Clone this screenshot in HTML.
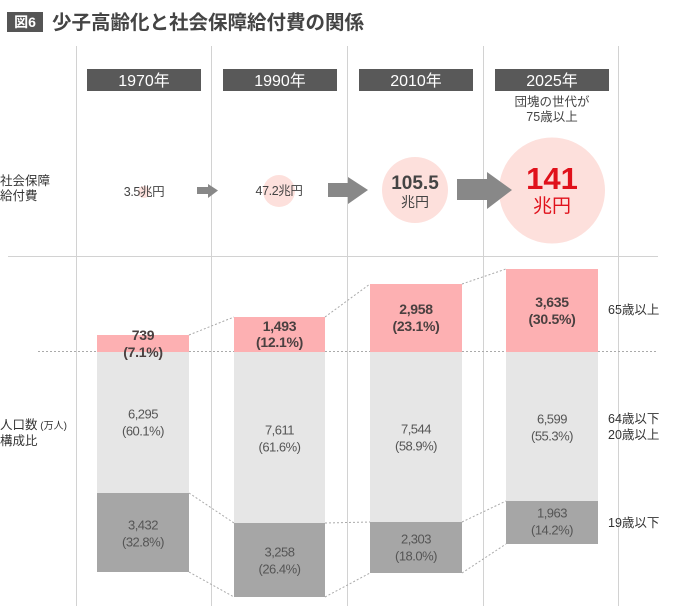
<!DOCTYPE html>
<html><head><meta charset="utf-8"><style>
html,body{margin:0;padding:0;background:#fff;}
svg{display:block;font-family:"Liberation Sans","Noto Sans CJK JP",sans-serif;}
</style></head><body>
<svg width="680" height="616" viewBox="0 0 680 616" xmlns="http://www.w3.org/2000/svg">
<!-- title -->
<rect x="7" y="12" width="36" height="20" fill="#555"/>
<text x="25" y="27" font-size="14" font-weight="bold" fill="#fff" text-anchor="middle">図6</text>
<text x="52" y="29" font-size="19.5" font-weight="bold" fill="#444">少子高齢化と社会保障給付費の関係</text>

<!-- grid lines -->
<g stroke="#d2d2d2" stroke-width="1">
<line x1="76.5" y1="46" x2="76.5" y2="606"/>
<line x1="211.5" y1="46" x2="211.5" y2="606"/>
<line x1="347.5" y1="46" x2="347.5" y2="606"/>
<line x1="483.5" y1="46" x2="483.5" y2="606"/>
<line x1="618.5" y1="46" x2="618.5" y2="606"/>
<line x1="8" y1="256.5" x2="658" y2="256.5"/>
</g>

<!-- year headers -->
<g fill="#595959">
<rect x="87" y="69" width="114" height="22"/>
<rect x="223" y="69" width="114" height="22"/>
<rect x="359" y="69" width="114" height="22"/>
<rect x="495" y="69" width="114" height="22"/>
</g>
<g fill="#fff" font-size="16" text-anchor="middle">
<text x="144" y="86">1970年</text>
<text x="280" y="86">1990年</text>
<text x="416" y="86">2010年</text>
<text x="552" y="86">2025年</text>
</g>
<g fill="#444" font-size="12.5" text-anchor="middle">
<text x="552" y="106">団塊の世代が</text>
<text x="552" y="121">75歳以上</text>
</g>

<!-- social security row -->
<g fill="#333" font-size="12.5">
<text x="0" y="185">社会保障</text>
<text x="0" y="200">給付費</text>
</g>
<g fill="#fde0dc">
<circle cx="144" cy="192" r="6"/>
<circle cx="279" cy="191" r="16"/>
<circle cx="415" cy="190" r="33"/>
<circle cx="552" cy="190.5" r="53"/>
</g>
<g fill="#888">
<polygon points="197,187 208,187 208,184 218,190.5 208,198 208,194 197,194"/>
<polygon points="328,183 348,183 348,177 368,190 348,204 348,197 328,197"/>
<polygon points="457,179 487,179 487,172 512,190 487,209 487,200 457,200"/>
</g>
<g fill="#444" text-anchor="middle">
<text x="144" y="196" font-size="12.5" letter-spacing="-0.4">3.5兆円</text>
<text x="279" y="195" font-size="12.5" letter-spacing="-0.4">47.2兆円</text>
<text x="415" y="189" font-size="19" font-weight="bold">105.5</text>
<text x="415" y="207" font-size="14">兆円</text>
</g>
<g fill="#e0111b" text-anchor="middle">
<text x="552" y="189" font-size="31" font-weight="bold">141</text>
<text x="552" y="212" font-size="19">兆円</text>
</g>

<!-- bars -->
<g fill="#fdb0b2">
<rect x="97" y="335" width="92" height="17"/>
<rect x="234" y="317" width="91" height="35"/>
<rect x="370" y="284" width="92" height="68"/>
<rect x="506" y="269" width="92" height="83"/>
</g>
<g fill="#e6e6e6">
<rect x="97" y="352" width="92" height="141"/>
<rect x="234" y="352" width="91" height="171"/>
<rect x="370" y="352" width="92" height="170"/>
<rect x="506" y="352" width="92" height="149"/>
</g>
<g fill="#a6a6a6">
<rect x="97" y="493" width="92" height="79"/>
<rect x="234" y="523" width="91" height="74"/>
<rect x="370" y="522" width="92" height="51"/>
<rect x="506" y="501" width="92" height="43"/>
</g>

<!-- dotted lines -->
<g stroke="#aaa" stroke-width="1" stroke-dasharray="2,2" fill="none">
<line x1="38" y1="351.5" x2="97" y2="351.5"/>
<line x1="189" y1="351.5" x2="234" y2="351.5"/>
<line x1="325" y1="351.5" x2="370" y2="351.5"/>
<line x1="462" y1="351.5" x2="506" y2="351.5"/>
<line x1="598" y1="351.5" x2="658" y2="351.5"/>
<line x1="189" y1="335" x2="234" y2="317"/>
<line x1="325" y1="317" x2="370" y2="284"/>
<line x1="462" y1="284" x2="506" y2="269"/>
<line x1="189" y1="493" x2="234" y2="523"/>
<line x1="325" y1="523" x2="370" y2="522"/>
<line x1="462" y1="522" x2="506" y2="501"/>
<line x1="189" y1="572" x2="234" y2="597"/>
<line x1="325" y1="597" x2="370" y2="573"/>
<line x1="462" y1="573" x2="506" y2="544"/>
</g>

<!-- bar labels -->
<g fill="#4a4040" font-size="14" font-weight="bold" text-anchor="middle" letter-spacing="-0.3">
<text x="143" y="340">739</text>
<text x="143" y="357">(7.1%)</text>
<text x="279.5" y="331">1,493</text>
<text x="279.5" y="347">(12.1%)</text>
<text x="416" y="314">2,958</text>
<text x="416" y="331">(23.1%)</text>
<text x="552" y="307">3,635</text>
<text x="552" y="324">(30.5%)</text>
</g>
<g fill="#555" font-size="13" text-anchor="middle" letter-spacing="-0.5">
<text x="143" y="418.5">6,295</text>
<text x="143" y="435.5">(60.1%)</text>
<text x="279.5" y="434.5">7,611</text>
<text x="279.5" y="451.5">(61.6%)</text>
<text x="416" y="433.5">7,544</text>
<text x="416" y="450.5">(58.9%)</text>
<text x="552" y="423.5">6,599</text>
<text x="552" y="440.5">(55.3%)</text>
<text x="143" y="529.5">3,432</text>
<text x="143" y="546.5">(32.8%)</text>
<text x="279.5" y="556.5">3,258</text>
<text x="279.5" y="573.5">(26.4%)</text>
<text x="416" y="543.5">2,303</text>
<text x="416" y="560.5">(18.0%)</text>
<text x="552" y="517.5">1,963</text>
<text x="552" y="534.5">(14.2%)</text>
</g>

<!-- side labels -->
<g fill="#333" font-size="12.5">
<text x="608" y="314">65歳以上</text>
<text x="608" y="423">64歳以下</text>
<text x="608" y="439">20歳以上</text>
<text x="608" y="527">19歳以下</text>
<text x="0" y="429">人口数<tspan font-size="10"> (万人)</tspan></text>
<text x="0" y="445">構成比</text>
</g>
</svg>
</body></html>
